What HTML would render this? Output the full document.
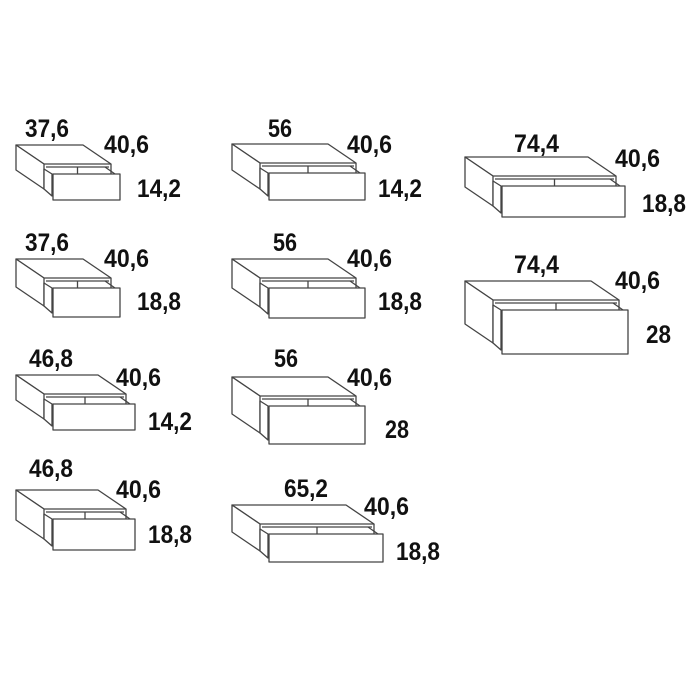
<!DOCTYPE html>
<html><head><meta charset="utf-8"><style>
html,body{margin:0;padding:0;background:#fff;width:700px;height:700px;overflow:hidden}
text{font-family:"Liberation Sans",sans-serif;font-weight:bold;font-size:25px;fill:#111}
</style></head><body>
<svg id="s" width="700" height="700" viewBox="0 0 700 700" xmlns="http://www.w3.org/2000/svg">
<g id="d" fill="#fff" stroke="#444" stroke-width="1.3" stroke-linejoin="round"></g>
<g lengthAdjust="spacingAndGlyphs">
<text x="25" y="137" textLength="44" lengthAdjust="spacingAndGlyphs">37,6</text><text x="104" y="153" textLength="45" lengthAdjust="spacingAndGlyphs">40,6</text><text x="137" y="197" textLength="44" lengthAdjust="spacingAndGlyphs">14,2</text>
<text x="25" y="251" textLength="44" lengthAdjust="spacingAndGlyphs">37,6</text><text x="104" y="267" textLength="45" lengthAdjust="spacingAndGlyphs">40,6</text><text x="137" y="310" textLength="44" lengthAdjust="spacingAndGlyphs">18,8</text>
<text x="29" y="367" textLength="44" lengthAdjust="spacingAndGlyphs">46,8</text><text x="116" y="386" textLength="45" lengthAdjust="spacingAndGlyphs">40,6</text><text x="148" y="430" textLength="44" lengthAdjust="spacingAndGlyphs">14,2</text>
<text x="29" y="477" textLength="44" lengthAdjust="spacingAndGlyphs">46,8</text><text x="116" y="498" textLength="45" lengthAdjust="spacingAndGlyphs">40,6</text><text x="148" y="543" textLength="44" lengthAdjust="spacingAndGlyphs">18,8</text>
<text x="268" y="137" textLength="24" lengthAdjust="spacingAndGlyphs">56</text><text x="347" y="153" textLength="45" lengthAdjust="spacingAndGlyphs">40,6</text><text x="378" y="197" textLength="44" lengthAdjust="spacingAndGlyphs">14,2</text>
<text x="273" y="251" textLength="24" lengthAdjust="spacingAndGlyphs">56</text><text x="347" y="267" textLength="45" lengthAdjust="spacingAndGlyphs">40,6</text><text x="378" y="310" textLength="44" lengthAdjust="spacingAndGlyphs">18,8</text>
<text x="274" y="367" textLength="24" lengthAdjust="spacingAndGlyphs">56</text><text x="347" y="386" textLength="45" lengthAdjust="spacingAndGlyphs">40,6</text><text x="385" y="438" textLength="24" lengthAdjust="spacingAndGlyphs">28</text>
<text x="284" y="497" textLength="44" lengthAdjust="spacingAndGlyphs">65,2</text><text x="364" y="515" textLength="45" lengthAdjust="spacingAndGlyphs">40,6</text><text x="396" y="560" textLength="44" lengthAdjust="spacingAndGlyphs">18,8</text>
<text x="514" y="152" textLength="45" lengthAdjust="spacingAndGlyphs">74,4</text><text x="615" y="167" textLength="45" lengthAdjust="spacingAndGlyphs">40,6</text><text x="642" y="212" textLength="44" lengthAdjust="spacingAndGlyphs">18,8</text>
<text x="514" y="273" textLength="45" lengthAdjust="spacingAndGlyphs">74,4</text><text x="615" y="289" textLength="45" lengthAdjust="spacingAndGlyphs">40,6</text><text x="646" y="343" textLength="25" lengthAdjust="spacingAndGlyphs">28</text>
</g>
</svg>
<script>
var g=document.getElementById('d'),ns='http://www.w3.org/2000/svg';
function p(pts){var e=document.createElementNS(ns,'polygon');e.setAttribute('points',pts.map(function(a){return a.join(',')}).join(' '));g.appendChild(e);}
function l(a,b){var e=document.createElementNS(ns,'line');e.setAttribute('x1',a[0]);e.setAttribute('y1',a[1]);e.setAttribute('x2',b[0]);e.setAttribute('y2',b[1]);g.appendChild(e);}
function dr(bx,by,w,hd){var dx=28,dy=19,h=hd-1;
p([[bx,by],[bx+w,by],[bx+w+dx,by+dy],[bx+dx,by+dy]]);
p([[bx,by],[bx,by+h],[bx+dx,by+dy+h],[bx+dx,by+dy]]);
l([bx+dx+2,by+dy+3],[bx+dx+w-2,by+dy+3]);
l([bx+dx+w/2,by+dy+3],[bx+dx+w/2,by+dy+10]);
l([bx+dx+w,by+dy],[bx+dx+w,by+dy+10]);
p([[bx+dx,by+dy+5],[bx+dx+8,by+dy+10],[bx+dx+8,by+dy+hd+6],[bx+dx,by+dy+h]]);
l([bx+dx+w-6,by+dy+3],[bx+dx+w+4,by+dy+10]);
p([[bx+dx+9,by+dy+10],[bx+dx+w+9,by+dy+10],[bx+dx+w+9,by+dy+10+hd],[bx+dx+9,by+dy+10+hd]]);
}
dr(16,145,67,26);dr(16,259,67,29);dr(16,375,82,26);dr(16,490,82,31);
dr(232,144,96,27);dr(232,259,96,30);dr(232,377,96,38);dr(232,505,114,28);
dr(465,157,123,31);dr(465,281,126,44);
</script>
</body></html>
